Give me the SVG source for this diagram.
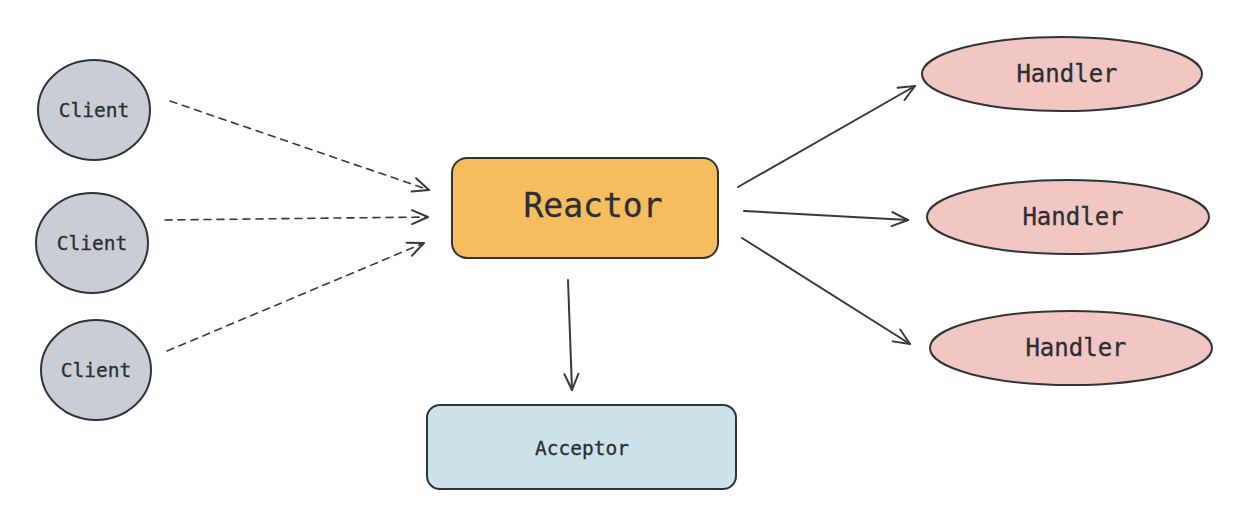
<svg xmlns="http://www.w3.org/2000/svg" width="1251" height="523" viewBox="0 0 1251 523">
<defs>
<style>
.client{fill:#c9ced6;stroke:#2f3439;stroke-width:2}
.handler{fill:#f2c6c3;stroke:#2f3439;stroke-width:2}
.t{font-family:"DejaVu Sans Mono","Liberation Mono",monospace;fill:#2b2f33;text-anchor:middle;dominant-baseline:central;stroke:#2b2f33;stroke-width:0.3}
.c{stroke:#343a40;stroke-width:2;fill:none;stroke-linecap:round}
.dash{stroke-dasharray:7 6;stroke-width:1.6}
</style>
<marker id="ah" viewBox="0 0 20 20" refX="18" refY="10" markerWidth="20" markerHeight="20" markerUnits="userSpaceOnUse" orient="auto">
<path d="M2,3 L18,10 L2,17" fill="none" stroke="#343a40" stroke-width="2" stroke-linecap="round" stroke-linejoin="round"/>
</marker>
</defs>
<rect width="1251" height="523" fill="#ffffff"/>
<g id="connectors">
<path class="c dash" d="M170,101 L429,190" marker-end="url(#ah)"/>
<path class="c dash" d="M165,220 L428,217" marker-end="url(#ah)"/>
<path class="c dash" d="M167,351 L424,243" marker-end="url(#ah)"/>
<path class="c" d="M738,187 L915,86" marker-end="url(#ah)"/>
<path class="c" d="M744,211 L908,220" marker-end="url(#ah)"/>
<path class="c" d="M742,238 L910,344" marker-end="url(#ah)"/>
<path class="c" d="M568,280 L572,390" marker-end="url(#ah)"/>
</g>
<g id="client1"><ellipse class="client" cx="94" cy="110" rx="56" ry="50"/><text class="t" x="94" y="110" font-size="19.5">Client</text></g>
<g id="client2"><ellipse class="client" cx="92" cy="243" rx="56" ry="50"/><text class="t" x="92" y="243" font-size="19.5">Client</text></g>
<g id="client3"><ellipse class="client" cx="96" cy="370" rx="55" ry="50"/><text class="t" x="96" y="370" font-size="19.5">Client</text></g>
<g id="reactor"><rect x="452" y="158" width="266" height="100" rx="15" fill="#f5bd5e" stroke="#2f3439" stroke-width="2"/><text class="t" x="593" y="205" font-size="33">Reactor</text></g>
<g id="acceptor"><rect x="427" y="405" width="309" height="84" rx="13" fill="#cde3e9" stroke="#2f3439" stroke-width="2"/><text class="t" x="582" y="448" font-size="19.5">Acceptor</text></g>
<g id="handler1"><ellipse class="handler" cx="1062" cy="74" rx="140" ry="37"/><text class="t" x="1067" y="74" font-size="24">Handler</text></g>
<g id="handler2"><ellipse class="handler" cx="1068" cy="217" rx="141" ry="37"/><text class="t" x="1073" y="217" font-size="24">Handler</text></g>
<g id="handler3"><ellipse class="handler" cx="1071" cy="348" rx="141" ry="37"/><text class="t" x="1076" y="348" font-size="24">Handler</text></g>
</svg>
